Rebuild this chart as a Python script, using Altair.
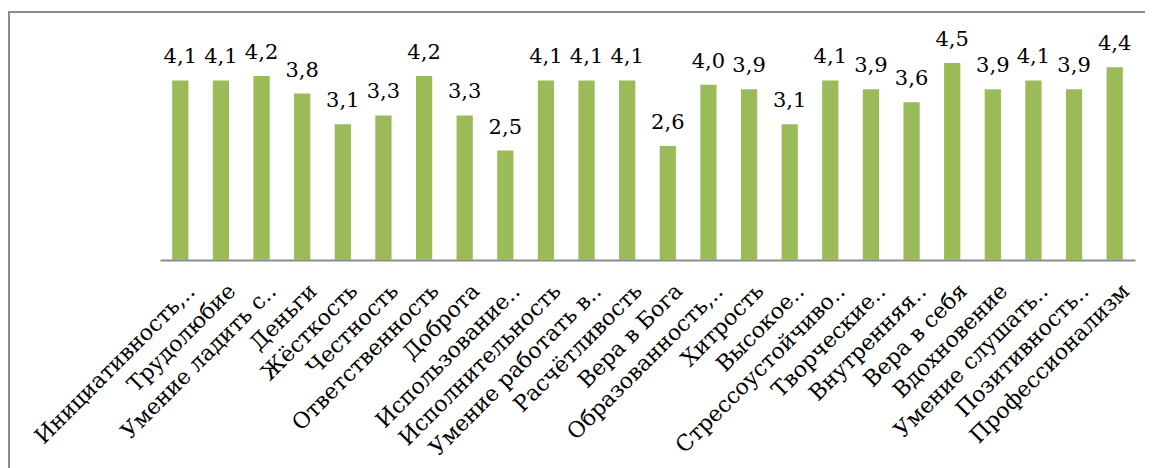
import altair as alt
import pandas as pd

categories = [
    "Инициативность,‥", "Трудолюбие", "Умение ладить с‥", "Деньги", "Жёсткость",
    "Честность", "Ответственность", "Доброта", "Использование‥", "Исполнительность",
    "Умение работать в‥", "Расчётливость", "Вера в Бога", "Образованность,‥",
    "Хитрость", "Высокое‥", "Стрессоустойчиво‥", "Творческие‥", "Внутренняя‥",
    "Вера в себя", "Вдохновение", "Умение слушать‥", "Позитивность‥", "Профессионализм",
]
values = [4.1, 4.1, 4.2, 3.8, 3.1, 3.3, 4.2, 3.3, 2.5, 4.1, 4.1, 4.1, 2.6, 4.0,
          3.9, 3.1, 4.1, 3.9, 3.6, 4.5, 3.9, 4.1, 3.9, 4.4]
value_labels = [f"{v:.1f}".replace(".", ",") for v in values]

df = pd.DataFrame({"cat": categories, "val": values, "lbl": value_labels})

FONT = "DejaVu Serif"

x_enc = alt.X(
    "cat:N", sort=categories, title=None,
    scale=alt.Scale(paddingInner=0.6, paddingOuter=0.3),
    axis=alt.Axis(
        labelAngle=-45, labelAlign="right", labelBaseline="top",
        labelFont=FONT, labelFontSize=22, labelColor="#000000",
        labelPadding=20, labelOffset=4, labelLimit=0, ticks=False,
        domainColor="#8c8c8c", domainWidth=2, labelOverlap=False,
    ),
)
y_enc = alt.Y("val:Q", title=None, scale=alt.Scale(domain=[0, 5]), axis=None)

bars = alt.Chart(df).mark_bar(color="#9BBB59").encode(x=x_enc, y=y_enc)

texts = alt.Chart(df).mark_text(
    font=FONT, fontSize=21, baseline="alphabetic", dy=-17, color="#000000"
).encode(x=alt.X("cat:N", sort=categories), y="val:Q", text="lbl:N")

frame = alt.Chart(pd.DataFrame({"a": [0]})).mark_rect(
    fill=None, stroke="#8c8c8c", strokeWidth=2
).encode(
    x=alt.value(-151), x2=alt.value(1010), y=alt.value(-29), y2=alt.value(460)
)

chart = alt.layer(frame, bars, texts).properties(
    width=975, height=219,
    autosize=alt.AutoSizeParams(type="none"),
    padding={"left": 152, "top": 33, "right": 10, "bottom": 220},
).configure_view(stroke=None)

chart.save("out.html", embed_options={"renderer": "svg", "actions": False})
